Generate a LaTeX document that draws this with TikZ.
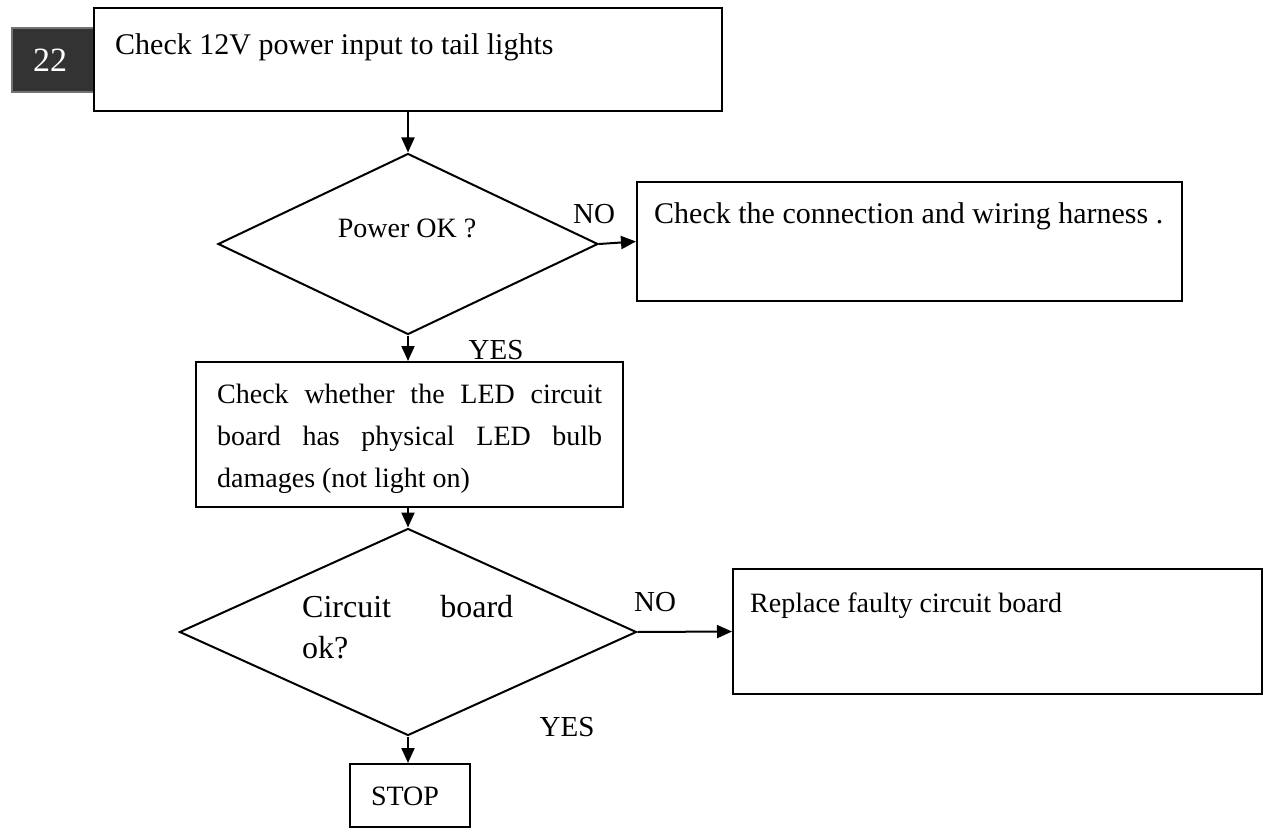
\documentclass[tikz,border=0pt]{standalone}
\usepackage{fontspec}
\setmainfont{Liberation Serif}
\usetikzlibrary{arrows.meta,shapes.geometric}
\begin{document}
\begin{tikzpicture}[x=1pt,y=-1pt,
  box/.style={draw,line width=2pt,rectangle,inner sep=0pt},
  dec/.style={draw,line width=2pt,diamond,inner sep=0pt},
  arr/.style={line width=2pt,-{Triangle[length=15pt,width=13pt]}},
  txt/.style={inner sep=0pt,anchor=base west,font=\fontsize{28}{34}\selectfont},
  bigtxt/.style={inner sep=0pt,anchor=base west,font=\fontsize{30}{36}\selectfont},
  lbl/.style={inner sep=0pt,font=\fontsize{29}{34}\selectfont}]
\useasboundingbox (0,0) rectangle (1272,832);
% badge
\node[draw=black!55,fill=black!80,line width=1.5pt,minimum width=82pt,minimum height=64pt,inner sep=0pt] (badge) at (53,60) {};
\node[inner sep=0pt,anchor=base,text=white,font=\fontsize{34}{40}\selectfont] (badgetxt) at (50,72) {22};
% boxes
\node[box,minimum width=628pt,minimum height=103pt] (b1) at (408,59.5) {};
\node[box,minimum width=545pt,minimum height=119pt] (b2) at (909.5,241.5) {};
\node[box,minimum width=427pt,minimum height=145pt] (b3) at (409.5,434.5) {};
\node[box,minimum width=529pt,minimum height=125pt] (b4) at (997.5,631.5) {};
\node[box,minimum width=120pt,minimum height=63pt] (stop) at (410,795.5) {};
% decisions
\node[dec,minimum width=380pt,minimum height=181pt] (d1) at (408,244) {};
\node[dec,minimum width=457pt,minimum height=207pt] (d2) at (408,632) {};
% texts
\node[bigtxt] (t1) at (115,55) {Check 12V power input to tail lights};
\node[bigtxt] (t2) at (654,223) {Check the connection and wiring harness .};
\node[txt] (t3a) at (217,403) {\hbox to 385pt{Check\hfill whether\hfill the\hfill LED\hfill circuit}};
\node[txt] (t3b) at (217,445) {\hbox to 385pt{board\hfill has\hfill physical\hfill LED\hfill bulb}};
\node[txt] (t3c) at (217,487) {damages (not light on)};
\node[txt] (t4) at (750,612) {Replace faulty circuit board};
\node[inner sep=0pt,anchor=base,font=\fontsize{28}{34}\selectfont] (tp) at (407,237) {Power OK ?};
\node[inner sep=0pt,anchor=base west,font=\fontsize{32}{40}\selectfont] (tc1) at (302,617) {\hbox to 211pt{Circuit\hfill board}};
\node[inner sep=0pt,anchor=base west,font=\fontsize{32}{40}\selectfont] (tc2) at (302,658) {ok?};
\node[inner sep=0pt,anchor=base,font=\fontsize{28}{34}\selectfont] (ts) at (405,805) {STOP};
% labels
\node[lbl] (no1) at (594,214) {NO};
\node[lbl] (yes1) at (496,350) {YES};
\node[lbl] (no2) at (655,602) {NO};
\node[lbl] (yes2) at (567,727) {YES};
% connectors
\draw[arr] (b1.south) -- (d1.north);
\draw[arr] (d1.east) -- (b2.west);
\draw[arr] (d1.south) -- (d1.south |- b3.north);
\draw[arr] (b3.south -| d2.north) -- (d2.north);
\draw[arr] (d2.east) -- (b4.west);
\draw[arr] (d2.south) -- (d2.south |- stop.north);
\end{tikzpicture}
\end{document}
